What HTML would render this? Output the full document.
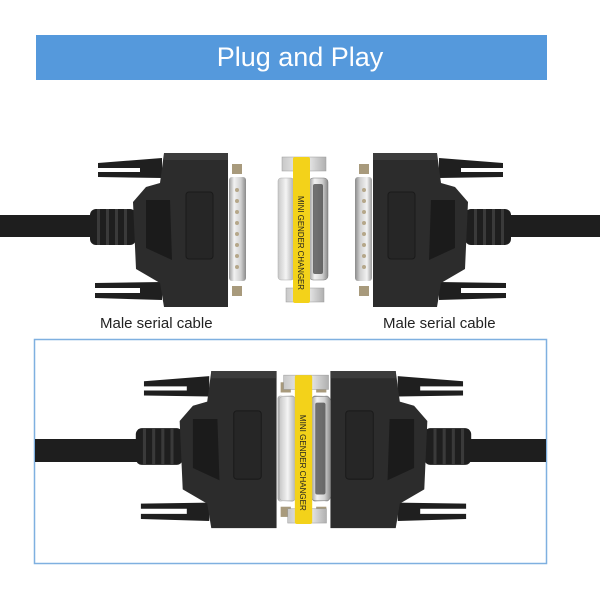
<!DOCTYPE html>
<html><head><meta charset="utf-8"><style>
html,body{margin:0;padding:0;background:#fff;}
svg{display:block}
</style></head><body>
<svg width="600" height="600" viewBox="0 0 600 600" xmlns="http://www.w3.org/2000/svg">
<defs>
<linearGradient id="metal" x1="0" x2="1">
<stop offset="0" stop-color="#9a9a9a"/><stop offset=".3" stop-color="#f2f2f2"/><stop offset=".7" stop-color="#d0d0d0"/><stop offset="1" stop-color="#8a8a8a"/>
</linearGradient>
<linearGradient id="metal2" x1="0" x2="1">
<stop offset="0" stop-color="#c8c8c8"/><stop offset=".5" stop-color="#f4f4f4"/><stop offset="1" stop-color="#b0b0b0"/>
</linearGradient>
<g id="conn">
<rect x="90" y="209" width="46" height="36" rx="6" fill="#1e1e1e"/>
<rect x="97" y="209" width="3" height="36" fill="#3a3a3a"/>
<rect x="106" y="209" width="3" height="36" fill="#3a3a3a"/>
<rect x="115" y="209" width="3" height="36" fill="#3a3a3a"/>
<rect x="124" y="209" width="3" height="36" fill="#3a3a3a"/>
<polygon points="98,163 162,158 162,178 98,177 98,172 140,172 140,168 98,168" fill="#1f1f1f"/>
<polygon points="95,283 162,282 162,300 95,298 95,293 140,293 140,288 95,288" fill="#1f1f1f"/>
<polygon points="164,153 228,153 228,307 164,307 160,283 136,269 133,202 146,187 160,183" fill="#2c2c2c"/>
<polygon points="164,153 228,153 228,160 164,160" fill="#3c3c3c"/>
<polygon points="146,200 170,200 172,260 146,248" fill="#1b1b1b"/>
<rect x="186" y="192" width="27" height="67" rx="3" fill="#262626" stroke="#1a1a1a"/>
<rect x="229" y="177" width="17" height="104" rx="3" fill="url(#metal)"/>
<g fill="#b5a78a">
<circle cx="237" cy="190" r="2"/><circle cx="237" cy="201" r="2"/><circle cx="237" cy="212" r="2"/><circle cx="237" cy="223" r="2"/><circle cx="237" cy="234" r="2"/><circle cx="237" cy="245" r="2"/><circle cx="237" cy="256" r="2"/><circle cx="237" cy="267" r="2"/>
</g>
<rect x="232" y="164" width="10" height="10" fill="#a89a7c"/>
<rect x="232" y="286" width="10" height="10" fill="#a89a7c"/>
</g>
<g id="adapt">
<rect x="282" y="157" width="44" height="14" fill="url(#metal2)" stroke="#999" stroke-width=".5"/>
<rect x="286" y="288" width="38" height="14" fill="url(#metal2)" stroke="#999" stroke-width=".5"/>
<rect x="278" y="178" width="16" height="102" rx="3" fill="url(#metal2)" stroke="#aaa" stroke-width=".5"/>
<rect x="309" y="178" width="19" height="102" rx="4" fill="url(#metal)" stroke="#777" stroke-width=".5"/>
<rect x="313" y="184" width="10" height="90" rx="2" fill="#3a3a3a" opacity=".7"/>
<rect x="293" y="157" width="17" height="146" rx="2" fill="#f3d21a"/>
<text transform="translate(298,196) rotate(90)" font-family="Liberation Sans, sans-serif" font-size="8.5" fill="#222" textLength="94" lengthAdjust="spacingAndGlyphs">MINI GENDER CHANGER</text>
</g>
</defs>

<rect x="36" y="35" width="511" height="45" fill="#5599dc"/>
<text x="300" y="66" text-anchor="middle" font-family="Liberation Sans, sans-serif" font-size="27" fill="#fff">Plug and Play</text>

<rect x="0" y="215" width="95" height="22" fill="#1e1e1e"/>
<rect x="505" y="215" width="95" height="22" fill="#1e1e1e"/>
<use href="#conn"/>
<use href="#conn" transform="translate(601,0) scale(-1,1)"/>
<use href="#adapt"/>

<text x="100" y="328" font-family="Liberation Sans, sans-serif" font-size="15" fill="#222">Male serial cable</text>
<text x="383" y="328" font-family="Liberation Sans, sans-serif" font-size="15" fill="#222">Male serial cable</text>

<rect x="34.5" y="339.5" width="512" height="224" fill="none" stroke="#7fb0e0" stroke-width="1.5"/>
<rect x="35" y="439" width="110" height="23" fill="#1e1e1e"/>
<rect x="460" y="439" width="86" height="23" fill="#1e1e1e"/>
<g transform="translate(44,215) scale(1.02)"><use href="#conn"/></g>
<g transform="translate(563,215) scale(-1.02,1.02)"><use href="#conn"/></g>
<g transform="translate(-4,215) scale(1.02)"><use href="#adapt"/></g>
</svg>
</body></html>
